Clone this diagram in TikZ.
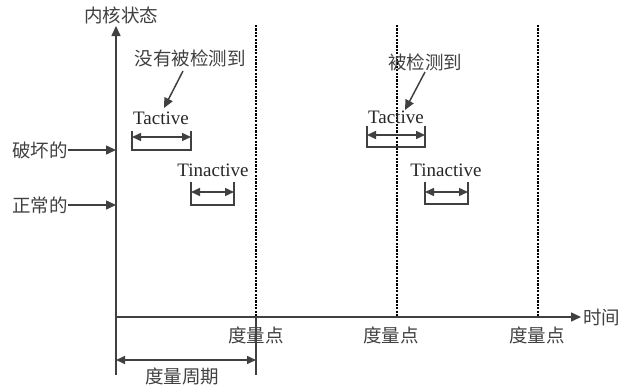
\documentclass[tikz,border=0pt]{standalone}
\usepackage{fontspec}
\setmainfont{Liberation Serif}
\newfontfamily\cjk{Noto Sans CJK SC}
\usetikzlibrary{arrows.meta}
\definecolor{dgray}{RGB}{64,64,64}
\begin{document}
\begin{tikzpicture}[x=1pt,y=-1pt,
  axis/.style={draw=dgray,line width=1.5pt},
  tipe/.style={-{Triangle[length=10pt,width=9pt]}},
  dbl/.style={{Triangle[length=9pt,width=8pt]}-{Triangle[length=9pt,width=8pt]}},
  dsh/.style={draw=black,line width=1.3pt,dash pattern=on 2.2pt off 1.2pt},
  zh/.style={font=\cjk\fontsize{18.5}{18.5}\selectfont,text=dgray,inner sep=0pt},
  lat/.style={font=\fontsize{19}{19}\selectfont,text=black!85,inner sep=0pt}]
\useasboundingbox (0,0) rectangle (621,388);
% axes
\coordinate (O) at (116,317);
\coordinate (ytop) at (116,26);
\coordinate (ybot) at (116,375);
\coordinate (xend) at (581,317);
\draw[axis,tipe] (ybot) -- (ytop);
\draw[axis,tipe] (O) -- (xend);
\node[zh,anchor=east] (time) at (620.5,318) {时间};
\node[zh] (ylab) at (121,15) {内核状态};
% measurement lines
\coordinate (m1t) at (256,25); \coordinate (m1) at (256,317); \coordinate (m1b) at (256,375);
\coordinate (m2t) at (397,25); \coordinate (m2) at (397,317);
\coordinate (m3t) at (538,25); \coordinate (m3) at (538,317);
\draw[dsh] (m1t) -- (m1);
\draw[dsh] (m2t) -- (m2);
\draw[dsh] (m3t) -- (m3);
\draw[axis] (m1) -- (m1b);
\node[zh] (d1) at (256,335) {度量点};
\node[zh] (d2) at (391,335) {度量点};
\node[zh] (d3) at (537,335) {度量点};
% period
\coordinate (p1) at (116,360); \coordinate (p2) at (256,360);
\draw[axis,dbl] (p1) -- (p2);
\node[zh] (per) at (182,376) {度量周期};
% state labels
\node[zh,anchor=east] (bad) at (68,150) {破坏的};
\node[zh,anchor=east] (ok) at (68,205) {正常的};
\draw[axis,tipe] (bad.east) -- (bad.east -| O);
\draw[axis,tipe] (ok.east) -- (ok.east -| O);
% first group
\node[zh] (nd) at (190,58) {没有被检测到};
\node[lat] (ta1) at (161,118) {Tactive};
\coordinate (nd1) at (183,71); \coordinate (nd2) at (164,108);
\draw[axis,tipe] (nd1) -- (nd2);
\draw[axis] (132,131) -- (132,150) -- (191,150) -- (191,131);
\coordinate (a1l) at (132,137); \coordinate (a1r) at (191,137);
\draw[axis,dbl] (a1l) -- (a1r);
\node[lat] (ti1) at (213,170) {Tinactive};
\draw[axis] (191,182) -- (191,205) -- (234,205) -- (234,182);
\coordinate (b1l) at (191,192); \coordinate (b1r) at (234,192);
\draw[axis,dbl] (b1l) -- (b1r);
% second group
\node[zh] (dd) at (425,62) {被检测到};
\node[lat] (ta2) at (396,117) {Tactive};
\coordinate (dd1) at (425,72); \coordinate (dd2) at (405,110);
\draw[axis,tipe] (dd1) -- (dd2);
\draw[axis] (367,126) -- (367,147) -- (425,147) -- (425,126);
\coordinate (a2l) at (367,135); \coordinate (a2r) at (425,135);
\draw[axis,dbl] (a2l) -- (a2r);
\node[lat] (ti2) at (446,170) {Tinactive};
\draw[axis] (425,182) -- (425,204) -- (468,204) -- (468,182);
\coordinate (b2l) at (425,192); \coordinate (b2r) at (468,192);
\draw[axis,dbl] (b2l) -- (b2r);
\end{tikzpicture}
\end{document}
